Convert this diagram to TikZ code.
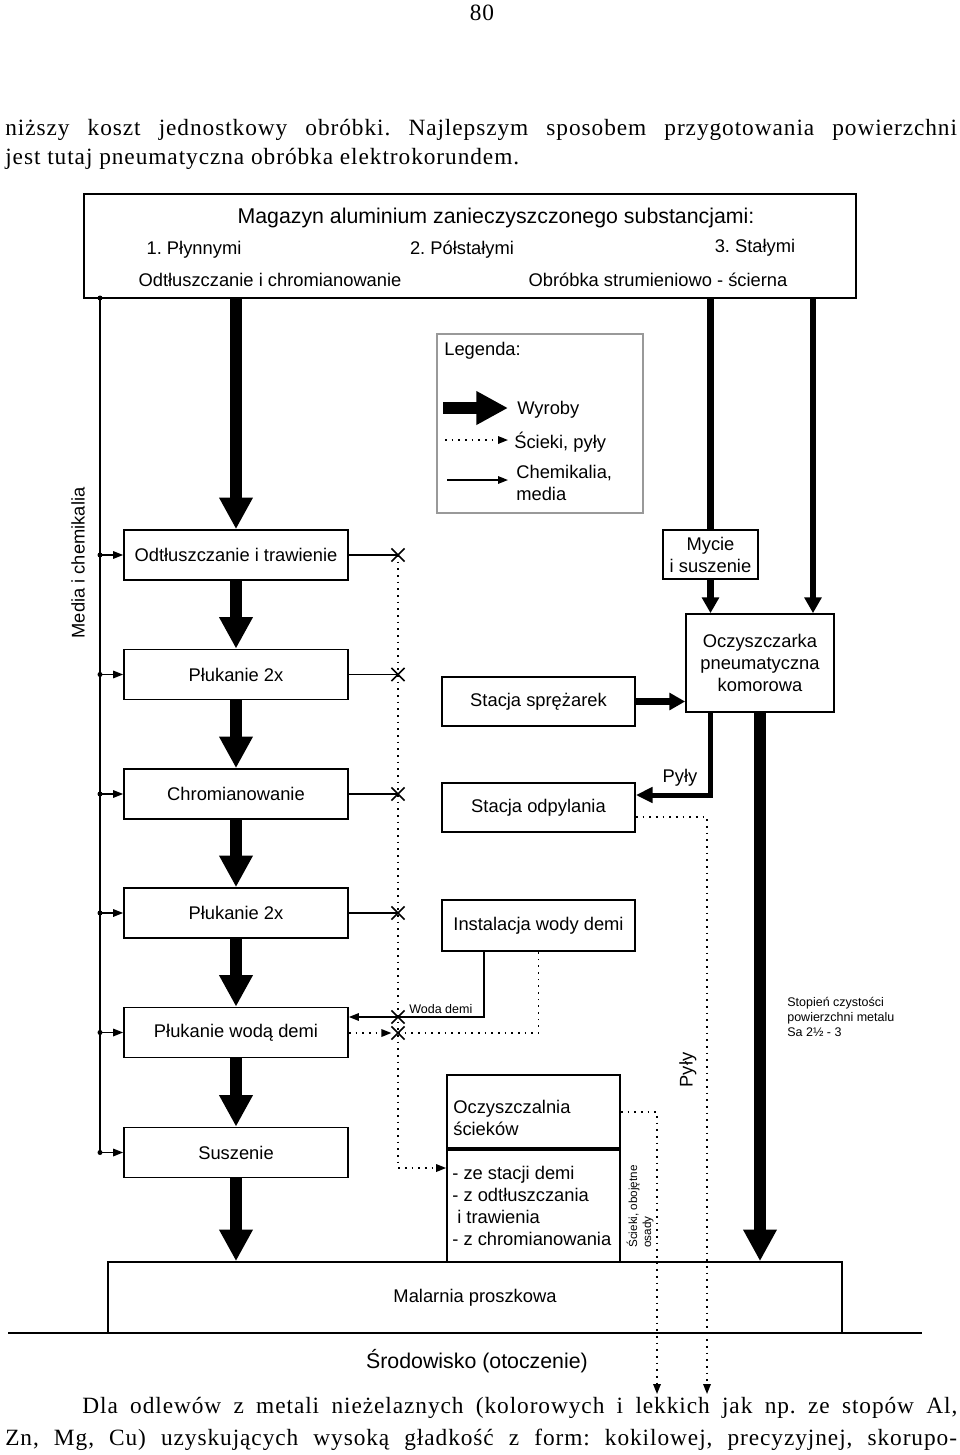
\documentclass[tikz,border=0pt]{standalone}
\usepackage{fontspec}
\setmainfont{Liberation Sans}
\newfontfamily\bodyfont{Liberation Serif}[LetterSpace=4]
\usepackage{pgf,tikz}
\usetikzlibrary{arrows.meta, calc, shapes.misc}
\newcommand{\fs}[2]{\fontsize{#1pt}{#2pt}\selectfont}
\frenchspacing

\begin{document}
\begin{tikzpicture}[line cap=butt,line join=miter,x=0.6pt,y=-0.6pt,
  blok/.style={draw,line width=1pt,align=center,inner sep=2pt,font=\fs{11}{13.2}},
  napis/.style={inner sep=0pt,align=center,font=\fs{11}{13.2}},
  maly/.style={inner sep=0pt,align=left,font=\fs{7.5}{9}},
  tekst/.style={anchor=base west,inner sep=0pt,font=\bodyfont\fs{14}{17}},
  wyrob/.style={line width=7.5pt,-{Triangle[width=19pt,length=19pt]}},
  wyrobline/.style={line width=3.8pt},
  wyrobmaly/.style={line width=3.8pt,-{Triangle[width=10pt,length=9.5pt]}},
  pyly/.style={line width=3pt,-{Triangle[width=9pt,length=10pt]}},
  chem/.style={line width=0.9pt,-{Triangle[width=4.5pt,length=6pt]}},
  chemline/.style={line width=0.9pt},
  odpad/.style={line width=1pt,dash pattern=on 1pt off 3pt,-{Triangle[width=4.5pt,length=6pt]}},
  odpadline/.style={line width=1pt,dash pattern=on 1pt off 3pt},
  krzyz/.style={cross out,draw,line width=0.9pt,minimum size=7pt,inner sep=0pt}]
\fill[white] (0,0) rectangle (960,1455);
\useasboundingbox (0,0) rectangle (960,1455);

% tekst strony
\node[tekst,anchor=center] (strona) at (482,13) {80};
\node[tekst] (tekstA) at (5,135) {\makebox[571pt][s]{niższy koszt jednostkowy obróbki. Najlepszym sposobem przygotowania powierzchni}};
\node[tekst] (tekstB) at (5,164) {jest tutaj pneumatyczna obróbka elektrokorundem.};

% magazyn
\node[draw,line width=1pt,minimum width=463.2pt,minimum height=62.4pt] (magazyn) at (470,246) {};
\node[napis,font=\fs{12.8}{15}] (tytul) at (496,218) {Magazyn aluminium zanieczyszczonego substancjami:};
\node[napis] (stanA) at (194,250) {1. Płynnymi};
\node[napis] (stanB) at (462,250) {2. Półstałymi};
\node[napis] (stanC) at (755,248) {3. Stałymi};
\node[napis] (obrA) at (270,280) {Odtłuszczanie i chromianowanie};
\node[napis] (obrB) at (658,280) {Obróbka strumieniowo - ścierna};

% lewa kolumna
\foreach \n/\y/\t in {odtl/555/Odtłuszczanie i trawienie,plukA/674.5/Płukanie 2x,chrom/794/Chromianowanie,plukB/913/Płukanie 2x,demi/1032.5/Płukanie wodą demi,susz/1152.5/Suszenie}
  \node[blok,minimum width=134.4pt,minimum height=30pt] (\n) at (236,\y) {\t};

% malarnia
\node[blok,minimum width=440.4pt,minimum height=42.6pt] (malarnia) at (475,1297.5) {Malarnia proszkowa};
\draw[line width=1.5pt] (8,1333) -- (922,1333);
\node[napis,font=\fs{12.8}{15}] (srodowisko) at (477,1361) {Środowisko (otoczenie)};

% media i chemikalia
\coordinate (media) at (100,298);
\draw[chemline] (media) -- (media |- susz.west);
\fill (media) circle (1.5pt);
\foreach \n in {odtl,plukA,chrom,plukB,demi,susz} {
  \fill (media |- \n.west) circle (1.5pt);
  \draw[chem] (media |- \n.west) -- (\n.west);
}
\node[napis,rotate=90] (medianapis) at (78,563) {Media i chemikalia};

% wyroby
\draw[wyrob] (odtl.north |- magazyn.south) -- (odtl.north);
\foreach \a/\b in {odtl/plukA,plukA/chrom,chrom/plukB,plukB/demi,demi/susz}
  \draw[wyrob] (\a.south) -- (\b.north);
\draw[wyrob] (susz.south) -- (susz.south |- malarnia.north);

% scieki
\foreach \n/\y in {kA/555,kB/674.5,kC/794,kD/913,kE/1017,kF/1033}
  \node[krzyz] (\n) at (398,\y) {};
\foreach \a/\b in {odtl/kA,plukA/kB,chrom/kC,plukB/kD}
  \draw[chemline] (\a.east) -- (\b.center);

% legenda
\node[draw=gray!80,line width=0.8pt,minimum width=123.6pt,minimum height=107.4pt] (legenda) at (540,423.5) {};
\node[napis,anchor=west] (legtytul) at (444,351) {Legenda:};
\coordinate (legA) at (443,408); \coordinate (legAk) at (508,408);
\coordinate (legB) at (445,440); \coordinate (legBk) at (508,440);
\coordinate (legC) at (447,480); \coordinate (legCk) at (508,480);
\draw[wyrob] (legA) -- (legAk);
\draw[odpad] (legB) -- (legBk);
\draw[chem] (legC) -- (legCk);
\node[napis,anchor=west] (legwyroby) at (517,410) {Wyroby};
\node[napis,anchor=west] (legscieki) at (514,442) {Ścieki, pyły};
\node[napis,anchor=west,align=left] (legchem) at (516,483) {Chemikalia,\\media};

% srodkowa kolumna
\node[blok,minimum width=115.8pt,minimum height=29.4pt] (sprez) at (538.5,701.5) {Stacja sprężarek};
\node[blok,minimum width=115.8pt,minimum height=29.4pt] (odpyl) at (538.5,807.5) {Stacja odpylania};
\node[blok,minimum width=115.8pt,minimum height=30.6pt] (wodademi) at (538.5,925.5) {Instalacja wody demi};
\node[draw,line width=1pt,minimum width=103.8pt,minimum height=112.2pt] (oczysz) at (533.5,1168.5) {};
\node[napis,anchor=west,align=left] (oczysztytul) at (453,1118) {Oczyszczalnia\\ścieków};
\draw[line width=2.2pt] (oczysz.west |- 0,1149) -- (oczysz.east |- 0,1149);
\node[napis,anchor=west,align=left] (oczyszlista) at (452,1206) {- ze stacji demi\\- z odtłuszczania\\\hspace*{3pt}i trawienia\\- z chromianowania};

% woda demi
\draw[chem] ([xshift=-32.7pt]wodademi.south) |- (kE.center) -- (demi.east |- kE);
\node[maly,anchor=south west] (woda) at (409,1014) {Woda demi};
\draw[odpad] (demi.east |- kF) -- (kF.west);
\draw[odpadline] (kF.center) -| (wodademi.south);
\coordinate (spust) at (398,1168);
\draw[odpad] (kA.center) -- (spust) -- (oczysz.west |- spust);

% prawa kolumna
\node[blok,minimum width=57pt,minimum height=29.4pt] (mycie) at (710.5,554.5) {Mycie\\i suszenie};
\node[blok,minimum width=88.8pt,minimum height=58.8pt] (oczyszczarka) at (760,663) {Oczyszczarka\\pneumatyczna\\komorowa};
\coordinate (stale) at (813,298);
\draw[wyrobline] (mycie.north |- magazyn.south) -- (mycie.north);
\draw[wyrobmaly] (mycie.south) -- (mycie.south |- oczyszczarka.north);
\draw[wyrobmaly] (stale) -- (stale |- oczyszczarka.north);
\draw[wyrobmaly] (sprez.east) -- (oczyszczarka.west |- sprez.east);
\draw[pyly] (oczyszczarka.south -| mycie.south) |- ([yshift=7.5pt]odpyl.east);
\node[napis] (pylyA) at (680,778) {Pyły};
\draw[wyrob] (oczyszczarka.south) -- (oczyszczarka.south |- malarnia.north);

% odprowadzenie do otoczenia
\coordinate (wylotA) at (707,1394);
\coordinate (wylotB) at (657,1394);
\draw[odpad] ([yshift=-5.7pt]odpyl.east) -| (wylotA);
\draw[odpad] ([yshift=33.9pt]oczysz.east) -| (wylotB);
\node[napis,rotate=90] (pylyB) at (688,1070) {Pyły};
\node[maly,rotate=90,anchor=west,font=\fs{7}{8.4}] (osady) at (640,1248) {Ścieki, obojętne\\osady};
\node[maly,anchor=north west] (stopien) at (787,997) {Stopień czystości\\powierzchni metalu\\Sa 2½ - 3};

% tekst strony
\node[tekst] (tekstC) at (82,1413) {\makebox[525pt][s]{Dla odlewów z metali nieżelaznych (kolorowych i lekkich jak np. ze stopów Al,}};
\node[tekst] (tekstD) at (5,1445) {\makebox[571pt][s]{Zn, Mg, Cu) uzyskujących wysoką gładkość z form: kokilowej, precyzyjnej, skorupo-}};
\end{tikzpicture}
\end{document}
